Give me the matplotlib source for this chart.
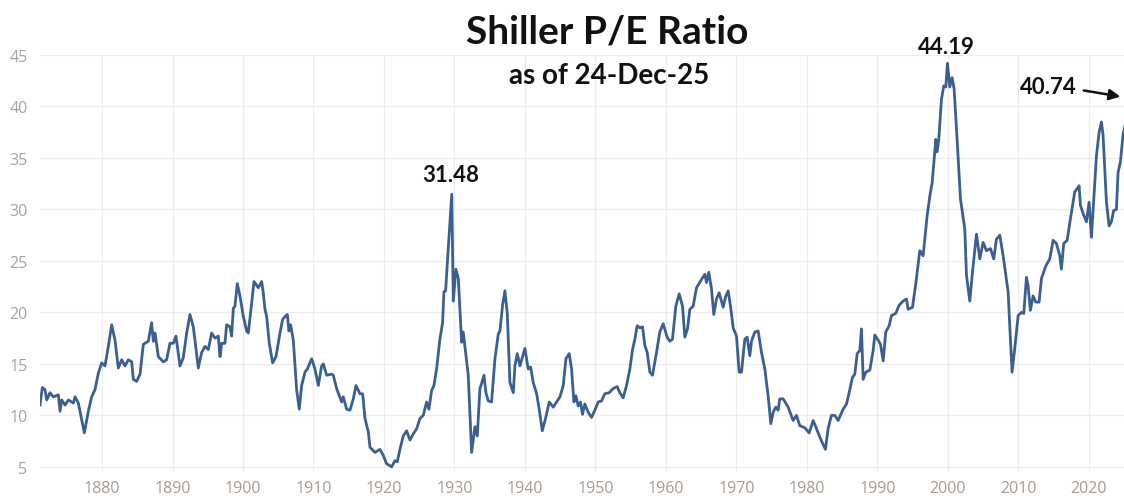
import matplotlib
matplotlib.use("Agg")
import matplotlib.pyplot as plt

# Shiller CAPE (year as decimal, P/E value)
years = [
    1871.20, 1871.53, 1871.91, 1872.15, 1872.62, 1873.09, 1873.80, 1874.04, 1874.28, 1874.75,
    1875.22, 1875.93, 1876.17, 1876.64, 1877.11, 1877.49, 1878.06, 1878.53, 1879.00, 1879.48,
    1879.95, 1880.42, 1880.90, 1881.37, 1881.84, 1882.31, 1882.79, 1883.26, 1883.73, 1884.21,
    1884.44, 1884.92, 1885.39, 1885.86, 1886.57, 1887.04, 1887.28, 1887.52, 1887.99, 1888.70,
    1889.17, 1889.64, 1890.12, 1890.49, 1891.06, 1891.53, 1892.01, 1892.48, 1892.95, 1893.66,
    1894.13, 1894.61, 1895.08, 1895.55, 1896.03, 1896.50, 1896.74, 1896.97, 1897.44, 1897.68,
    1898.15, 1898.39, 1898.63, 1898.86, 1899.19, 1899.57, 1900.05, 1900.52, 1900.75, 1901.23,
    1901.56, 1902.17, 1902.65, 1902.88, 1903.12, 1903.36, 1903.73, 1904.21, 1904.68, 1905.25,
    1905.62, 1905.96, 1906.29, 1906.52, 1906.76, 1907.14, 1907.61, 1907.99,
    1908.32, 1908.80, 1909.13, 1909.74, 1910.21, 1910.69, 1911.16, 1911.40, 1911.87, 1912.58,
    1912.81, 1913.29, 1914.00, 1914.23, 1914.71, 1915.18, 1915.65, 1916.03, 1916.60, 1916.98,
    1917.31, 1917.78, 1918.02, 1918.73, 1919.43, 1919.91, 1920.38, 1921.09, 1921.56, 1921.89,
    1922.27, 1922.74, 1923.22, 1923.69, 1924.16, 1924.64, 1925.11, 1925.58, 1926.05, 1926.38,
    1926.76, 1927.09, 1927.47, 1927.94, 1928.32, 1928.51, 1928.75, 1929.03, 1929.30, 1929.62,
    1929.84, 1930.21, 1930.55, 1931.02, 1931.25, 1931.73, 1931.96, 1932.44, 1932.91, 1933.24,
    1933.62, 1933.86, 1934.19, 1934.47, 1934.80, 1935.27, 1935.75, 1936.22, 1936.46, 1936.83,
    1937.16, 1937.50, 1937.87, 1938.35, 1938.58, 1938.92, 1939.29, 1939.62, 1940.00, 1940.47,
    1940.81, 1941.18, 1941.66, 1942.03, 1942.46, 1942.93, 1943.45, 1944.02, 1944.49, 1944.97,
    1945.44, 1945.82, 1946.29, 1946.62,
    1946.95, 1947.23, 1947.56, 1947.89, 1948.17, 1948.50, 1948.98, 1949.45, 1949.92, 1950.40,
    1950.87, 1951.34, 1951.96, 1952.52, 1953.09, 1953.47, 1953.94, 1954.42, 1954.89, 1955.27,
    1955.60, 1955.93, 1956.31, 1956.69, 1957.02, 1957.35, 1957.73, 1958.10, 1958.67, 1959.14,
    1959.62, 1960.18, 1960.56, 1960.94, 1961.41, 1961.89, 1962.36, 1962.69, 1963.07, 1963.40,
    1963.87, 1964.35, 1965.05, 1965.53, 1965.76, 1966.09, 1966.47, 1966.80, 1967.18, 1967.56,
    1968.13, 1968.46, 1968.84, 1969.17, 1969.55, 1970.02, 1970.40, 1970.73, 1971.20, 1971.53,
    1971.91, 1972.15, 1972.62, 1973.09, 1973.57, 1974.04, 1974.51, 1974.89, 1975.22, 1975.60,
    1975.93, 1976.16, 1976.64, 1977.35, 1978.06, 1978.53, 1979.00, 1979.71, 1980.33, 1980.90,
    1981.37, 1982.08, 1982.64, 1983.02, 1983.49, 1983.97, 1984.44,
    1985.15, 1985.63, 1986.00, 1986.48, 1986.81, 1987.14, 1987.52, 1987.75, 1987.99, 1988.37,
    1988.94, 1989.41, 1989.64, 1990.12, 1990.45, 1990.83, 1991.20, 1991.68, 1992.01, 1992.62,
    1993.10, 1993.66, 1994.14, 1994.37, 1994.99, 1995.46, 1996.03, 1996.50, 1997.07, 1997.45,
    1997.78, 1998.30, 1998.49, 1998.72, 1999.10, 1999.43, 1999.72, 1999.95, 2000.28, 2000.61,
    2000.90, 2001.32, 2001.80, 2002.41, 2002.65, 2003.12, 2003.50, 2004.07, 2004.54, 2005.01,
    2005.48, 2006.05, 2006.52, 2006.90, 2007.38, 2007.85, 2008.23, 2008.56, 2008.79, 2009.12,
    2009.50, 2009.98, 2010.45, 2010.78, 2011.16, 2011.39, 2011.72, 2012.10, 2012.48, 2012.95,
    2013.29, 2013.90, 2014.47, 2014.94, 2015.41, 2015.89, 2016.12, 2016.45, 2016.93, 2017.40,
    2018.01, 2018.34, 2018.63, 2018.82, 2019.20, 2019.67, 2020.05, 2020.38, 2020.71, 2021.09,
    2021.47, 2021.80, 2022.03, 2022.51, 2022.88, 2023.21, 2023.54, 2023.92, 2024.16, 2024.49,
    2024.87, 2025.98,
]
cape = [
    11.0, 12.7, 12.5, 11.5, 12.2, 11.8, 12.0, 10.4, 11.5, 11.0,
    11.5, 11.2, 11.8, 11.2, 9.6, 8.3, 10.4, 11.8, 12.5, 14.1,
    15.1, 14.8, 16.7, 18.8, 17.3, 14.6, 15.4, 14.8, 15.4, 15.2,
    13.5, 13.3, 14.0, 16.9, 17.2, 19.0, 17.2, 18.0, 15.7, 15.2,
    15.4, 17.0, 17.0, 17.7, 14.8, 15.6, 18.0, 19.8, 18.6, 14.6,
    16.1, 16.7, 16.4, 18.0, 17.5, 17.7, 15.7, 17.0, 17.0, 18.8,
    18.6, 17.7, 20.4, 20.6, 22.8, 21.6, 19.6, 18.2, 18.0, 20.9,
    23.0, 22.4, 23.0, 21.9, 20.3, 19.6, 17.0, 15.1, 15.7, 18.0,
    19.3, 19.6, 19.8, 18.2, 18.8, 17.3, 12.5, 10.6,
    12.9, 14.2, 14.5, 15.5, 14.5, 12.9, 14.8, 15.0, 13.9, 14.0,
    13.9, 12.6, 11.3, 11.8, 10.6, 10.5, 11.6, 12.9, 12.1, 12.1,
    9.7, 8.4, 6.9, 6.4, 6.7, 6.1, 5.3, 5.0, 5.6, 5.5,
    6.7, 8.0, 8.5, 7.6, 8.2, 8.7, 9.7, 10.0, 11.3, 10.6,
    12.4, 12.9, 14.5, 17.4, 19.0, 22.0, 22.1, 25.2, 28.0, 31.48,
    21.1, 24.2, 23.3, 17.1, 18.1, 15.2, 13.9, 6.4, 8.9, 8.0,
    12.6, 13.1, 13.9, 12.2, 11.4, 11.3, 15.5, 17.9, 18.2, 20.7,
    22.1, 19.9, 13.2, 12.2, 14.8, 16.0, 14.8, 15.6, 16.5, 14.5,
    14.7, 13.2, 12.1, 10.6, 8.5, 9.7, 11.3, 10.8, 11.3, 11.8,
    12.9, 15.5, 16.0, 14.5,
    11.3, 11.9, 10.9, 11.3, 10.1, 11.1, 10.3, 9.8, 10.5, 11.3,
    11.4, 12.1, 12.2, 12.6, 12.8, 12.2, 11.7, 12.9, 14.5, 16.4,
    17.4, 18.7, 18.5, 18.6, 16.8, 16.1, 14.2, 13.9, 16.1, 18.1,
    18.9, 17.6, 17.2, 17.4, 20.6, 21.8, 20.6, 17.6, 18.4, 20.3,
    20.6, 22.4, 23.2, 23.7, 22.9, 23.9, 22.3, 19.8, 21.3, 21.9,
    20.5, 21.5, 22.1, 20.6, 18.5, 17.7, 14.2, 14.2, 17.4, 17.6,
    15.8, 17.2, 18.1, 18.2, 16.1, 14.5, 11.9, 9.2, 10.3, 10.8,
    10.5, 11.6, 11.6, 10.8, 9.5, 10.0, 9.0, 8.8, 8.3, 9.5,
    8.7, 7.5, 6.7, 8.7, 10.0, 10.0, 9.5,
    10.6, 11.1, 12.2, 13.7, 14.0, 16.0, 16.3, 18.4, 13.5, 14.2,
    14.4, 16.3, 17.8, 17.3, 16.9, 15.3, 18.1, 18.7, 19.7, 19.9,
    20.7, 21.1, 21.3, 20.3, 20.5, 22.8, 26.0, 25.5, 29.4, 31.3,
    32.6, 36.8, 35.6, 36.8, 40.7, 42.0, 41.9, 44.19, 41.9, 42.8,
    41.7, 36.8, 31.0, 28.1, 23.6, 21.1, 23.9, 27.6, 25.2, 26.8,
    26.0, 26.2, 25.2, 27.1, 27.5, 25.5, 23.6, 22.0, 18.7, 14.2,
    16.5, 19.7, 20.0, 19.9, 23.4, 22.6, 20.2, 21.6, 21.0, 21.0,
    23.3, 24.5, 25.2, 27.0, 26.7, 25.5, 24.2, 26.7, 27.0, 29.1,
    31.7, 32.0, 32.3, 30.4, 29.6, 28.8, 30.7, 27.3, 31.0, 35.2,
    37.5, 38.5, 37.2, 30.7, 28.4, 28.8, 29.9, 30.0, 33.6, 34.6,
    37.3, 40.74,
]

yticks = [5, 10, 15, 20, 25, 30, 35, 40, 45]
xticks = [1880, 1890, 1900, 1910, 1920, 1930, 1940, 1950, 1960, 1970, 1980, 1990, 2000, 2010, 2020]

line_color = "#3a5f92"
grid_color = "#ececec"
text_color = "#111111"

fig = plt.figure(figsize=(11.24, 5.02), dpi=100)
ax = fig.add_axes([40 / 1124, 1 - 473 / 502, 1 - 40 / 1124, (473 - 56) / 502])

ax.plot(years, cape, color=line_color, linewidth=2.0, solid_joinstyle="round")

ax.set_xlim(1871.2, 2025.0)
ax.set_ylim(4.5, 45)
ax.set_xticks(xticks)
ax.set_yticks(yticks)
ax.grid(True, color=grid_color, linewidth=0.9)
ax.set_axisbelow(True)
for s in ax.spines.values():
    s.set_visible(False)
ax.tick_params(length=0)
ax.tick_params(axis="y", pad=9, labelcolor="#a3a3a3")
ax.tick_params(axis="x", pad=6, labelcolor="#a89b91")
for lab in ax.get_xticklabels() + ax.get_yticklabels():
    lab.set_fontfamily("Open Sans")
    lab.set_fontsize(11.5)

# titles
fig.text(607 / 1124, 1 - 32 / 502, "Shiller P/E Ratio", ha="center", va="center",
         fontsize=28, fontweight="bold", family="Lato", color=text_color)
fig.text(609 / 1124, 1 - 76 / 502, "as of 24-Dec-25", ha="center", va="center",
         fontsize=20, fontweight="bold", family="Lato", color=text_color)

# peak / latest value labels
for label, (px, py) in [("31.48", (451, 176)), ("44.19", (946, 48)), ("40.74", (1048, 88))]:
    fig.text(px / 1124, 1 - py / 502, label, fontsize=16, fontweight="bold", family="Lato",
             color=text_color, ha="center", va="center")
ax.annotate("", xy=(1123 / 1124, 1 - 98 / 502), xycoords="figure fraction",
            xytext=(1081 / 1124, 1 - 91 / 502), textcoords="figure fraction",
            arrowprops=dict(arrowstyle="-|>", color=text_color, lw=1.8, mutation_scale=16))

fig.savefig("out.png", dpi=100)
